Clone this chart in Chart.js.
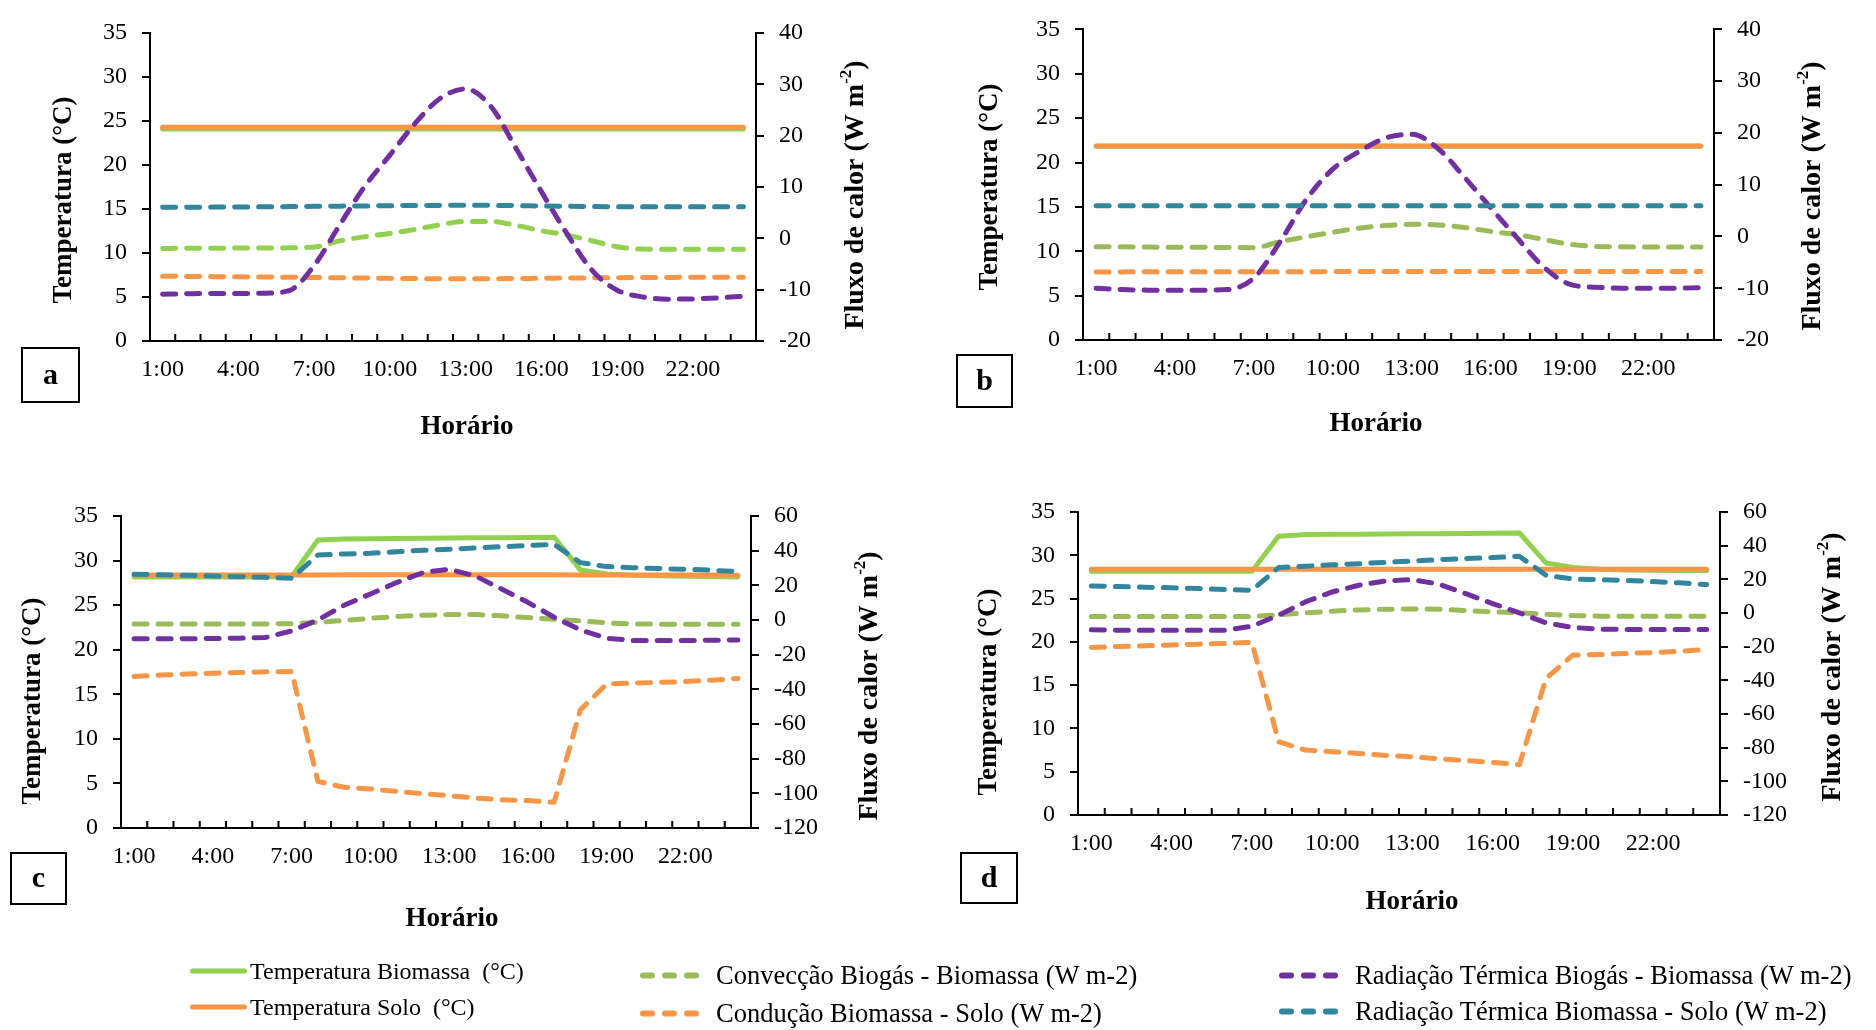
<!DOCTYPE html>
<html>
<head>
<meta charset="utf-8">
<title>Temperaturas e fluxos de calor</title>
<script src="https://cdn.jsdelivr.net/npm/chart.js@4.4.1/dist/chart.umd.min.js"></script>
<style>
  body { margin: 0; background: #fff; }
  #pagina { position: relative; width: 1876px; height: 1030px; overflow: hidden; background: #fff;
            font-family: 'Liberation Serif', 'Times New Roman', serif; color: #000; }
  #pagina canvas { position: absolute; left: 0; top: 0; pointer-events: none; }
  .leg { position: absolute; display: flex; align-items: center; white-space: pre; transform: translateY(-50%); }
  .amostra-linha { display: inline-block; height: 5px; border-radius: 3px; }
  .amostra-traco { display: inline-block; width: 15px; height: 6px; border-radius: 3px; margin-right: 7px; }
</style>
</head>
<body>
<div id="pagina">
  <canvas id="painelA" width="1876" height="1030"></canvas>
  <canvas id="painelB" width="1876" height="1030"></canvas>
  <canvas id="painelC" width="1876" height="1030"></canvas>
  <canvas id="painelD" width="1876" height="1030"></canvas>
</div>
<script>
// eixo x e ticks
const horas = ['1:00','2:00','3:00','4:00','5:00','6:00','7:00','8:00','9:00','10:00','11:00','12:00',
               '13:00','14:00','15:00','16:00','17:00','18:00','19:00','20:00','21:00','22:00','23:00','24:00'];
const rotulosX = ['1:00','4:00','7:00','10:00','13:00','16:00','19:00','22:00'];
const ticksTemperatura = [0, 5, 10, 15, 20, 25, 30, 35];
const ticksFluxoAB = [-20, -10, 0, 10, 20, 30, 40];
const ticksFluxoCD = [-120, -100, -80, -60, -40, -20, 0, 20, 40, 60];

const nomesSeries = ['Temperatura Biomassa  (°C)', 'Temperatura Solo  (°C)',
  'Convecção Biogás - Biomassa (W m-2)', 'Condução Biomassa - Solo (W m-2)',
  'Radiação Térmica Biogás - Biomassa (W m-2)', 'Radiação Térmica Biomassa - Solo (W m-2)'];
const coresSeries = ['#92d050', '#f79646', '#9bbb59', '#f79646', '#7030a0', '#31859c'];

// painel a
const tempBiomassaA = [24.1,24.1,24.1,24.1,24.1,24.1,24.1,24.1,24.1,24.1,24.1,24.1,24.1,24.1,24.1,24.1,24.1,24.1,24.1,24.1,24.1,24.1,24.1,24.1];
const tempSoloA = [24.3,24.3,24.3,24.3,24.3,24.3,24.3,24.3,24.3,24.3,24.3,24.3,24.3,24.3,24.3,24.3,24.3,24.3,24.3,24.3,24.3,24.3,24.3,24.3];
const conveccaoA = [-1.96,-1.95,-1.93,-1.9,-1.88,-1.85,-1.7,-0.5,0.31,0.96,1.74,2.65,3.3,3.3,2.52,1.48,0.64,-0.47,-1.64,-2.1,-2.15,-2.15,-2.15,-2.15];
const conducaoA = [-7.37,-7.42,-7.46,-7.5,-7.54,-7.58,-7.63,-7.68,-7.73,-7.8,-7.84,-7.87,-7.89,-7.86,-7.83,-7.78,-7.74,-7.7,-7.66,-7.63,-7.61,-7.6,-7.58,-7.56];
const radBiogasA = [-10.88,-10.8,-10.75,-10.75,-10.7,-10.2,-5.3,2.5,10.1,16.2,22.4,27.3,29.1,25.7,17.5,9.1,1.0,-6.2,-10.1,-11.4,-11.85,-11.8,-11.6,-11.3];
const radSoloA = [6.04,6.06,6.08,6.1,6.14,6.18,6.23,6.27,6.31,6.36,6.4,6.42,6.43,6.42,6.38,6.3,6.25,6.2,6.17,6.17,6.17,6.17,6.17,6.17];

// painel b
const tempBiomassaB = [21.82,21.82,21.82,21.82,21.82,21.82,21.82,21.82,21.82,21.82,21.82,21.82,21.82,21.82,21.82,21.82,21.82,21.82,21.82,21.82,21.82,21.82,21.82,21.82];
const tempSoloB = [21.86,21.86,21.86,21.86,21.86,21.86,21.86,21.86,21.86,21.86,21.86,21.86,21.86,21.86,21.86,21.86,21.86,21.86,21.86,21.86,21.86,21.86,21.86,21.86];
const conveccaoB = [-1.98,-2.0,-2.05,-2.08,-2.1,-2.13,-2.16,-1.0,-0.06,0.8,1.6,2.1,2.35,2.22,1.73,0.99,0.37,-0.56,-1.48,-1.91,-2.0,-2.04,-2.04,-2.04];
const conducaoB = [-6.85,-6.84,-6.83,-6.82,-6.82,-6.81,-6.8,-6.8,-6.8,-6.79,-6.79,-6.79,-6.79,-6.78,-6.78,-6.78,-6.77,-6.77,-6.76,-6.76,-6.76,-6.75,-6.75,-6.75];
const radBiogasB = [-10.0,-10.25,-10.37,-10.37,-10.37,-10.25,-8.0,-1.0,7.2,13.0,16.4,19.0,19.75,17.0,11.5,5.6,-0.2,-5.8,-9.2,-9.8,-10.0,-10.0,-10.0,-9.88];
const radSoloB = [5.93,5.93,5.93,5.93,5.93,5.93,5.93,5.93,5.93,5.93,5.93,5.93,5.93,5.93,5.93,5.93,5.93,5.93,5.93,5.93,5.93,5.93,5.93,5.93];

// painel c
const tempBiomassaC = [28.15,28.15,28.15,28.15,28.15,28.15,28.2,32.3,32.42,32.45,32.48,32.5,32.52,32.55,32.57,32.6,32.62,28.95,28.5,28.35,28.3,28.25,28.2,28.15];
const tempSoloC = [28.36,28.37,28.37,28.38,28.38,28.38,28.39,28.39,28.4,28.4,28.4,28.41,28.41,28.41,28.4,28.4,28.4,28.39,28.39,28.38,28.38,28.37,28.37,28.36];
const conveccaoC = [-2.24,-2.24,-2.24,-2.24,-2.24,-2.24,-2.2,-1.3,-0.3,1.0,2.0,2.76,3.14,3.14,2.4,1.4,0.45,-0.5,-1.66,-2.3,-2.4,-2.4,-2.4,-2.4];
const conducaoC = [-32.6,-31.8,-31.2,-30.7,-30.3,-29.9,-29.7,-93.1,-96.5,-97.5,-98.9,-100.2,-101.4,-102.7,-103.7,-104.2,-105.2,-51.8,-37.0,-36.4,-36.0,-35.5,-34.7,-33.7];
const radBiogasC = [-10.88,-10.88,-10.8,-10.7,-10.5,-10.1,-6.3,0.1,8.5,15.0,21.6,27.35,29.3,25.4,17.9,10.2,1.6,-5.7,-10.5,-11.85,-11.85,-11.85,-11.7,-11.5];
const radSoloC = [26.4,26.1,25.8,25.4,25.0,24.6,24.1,37.5,38.1,38.5,39.4,40.2,40.8,41.6,42.3,42.9,43.7,33.1,30.8,30.2,29.65,29.3,28.7,27.9];

// painel d
const tempBiomassaD = [28.15,28.15,28.15,28.15,28.15,28.15,28.15,32.19,32.4,32.42,32.44,32.46,32.48,32.5,32.52,32.55,32.58,29.1,28.58,28.4,28.3,28.27,28.25,28.25];
const tempSoloD = [28.38,28.38,28.38,28.38,28.38,28.38,28.38,28.38,28.38,28.38,28.38,28.38,28.38,28.38,28.38,28.38,28.38,28.38,28.38,28.38,28.38,28.38,28.38,28.38];
const conveccaoD = [-2.1,-2.1,-2.1,-2.1,-2.1,-2.1,-2.1,-1.1,0.07,1.06,1.85,2.25,2.45,2.25,1.46,0.67,0.07,-0.72,-1.5,-1.9,-1.9,-1.9,-1.9,-1.9];
const conducaoD = [-20.5,-19.9,-19.5,-19.0,-18.5,-18.1,-17.5,-76.5,-81.4,-82.4,-83.4,-84.6,-85.4,-86.6,-87.7,-88.7,-90.1,-38.9,-25.0,-24.65,-24.06,-23.5,-22.7,-21.7];
const radBiogasD = [-10.0,-10.2,-10.2,-10.2,-10.2,-10.2,-7.84,-1.3,6.6,12.5,16.5,19.06,19.85,17.1,11.5,5.6,0.07,-5.86,-8.6,-9.6,-9.8,-9.8,-9.8,-9.8];
const radSoloD = [16.1,15.7,15.3,15.0,14.5,13.9,13.5,27.0,27.8,28.6,29.3,30.1,30.9,31.7,32.3,32.9,33.7,22.4,20.2,19.85,19.3,18.66,17.9,16.9];

// layout de cada painel (px da pagina)
const paineis = [
  { canvas: 'painelA', letra: 'a', suave: true, corConveccao: '#92d050', ticksFluxo: ticksFluxoAB,
    dados: [tempBiomassaA, tempSoloA, conveccaoA, conducaoA, radBiogasA, radSoloA],
    area: { left: 150, right: 756, top: 33, bottom: 341 },
    caixa: [22, 348, 57, 54], tituloX: [467, 427], tituloY: [64, 200], tituloY1: [856, 195] },
  { canvas: 'painelB', letra: 'b', suave: true, ticksFluxo: ticksFluxoAB,
    dados: [tempBiomassaB, tempSoloB, conveccaoB, conducaoB, radBiogasB, radSoloB],
    area: { left: 1083, right: 1714, top: 16, bottom: 340 },
    caixa: [957, 355, 55, 52], tituloX: [1376, 424], tituloY: [990, 187], tituloY1: [1813, 196] },
  { canvas: 'painelC', letra: 'c', suave: false, ticksFluxo: ticksFluxoCD,
    dados: [tempBiomassaC, tempSoloC, conveccaoC, conducaoC, radBiogasC, radSoloC],
    area: { left: 121, right: 751, top: 516, bottom: 828 },
    caixa: [11, 853, 55, 51], tituloX: [452, 919], tituloY: [33, 701], tituloY1: [870, 686] },
  { canvas: 'painelD', letra: 'd', suave: false, ticksFluxo: ticksFluxoCD,
    dados: [tempBiomassaD, tempSoloD, conveccaoD, conducaoD, radBiogasD, radSoloD],
    area: { left: 1078, right: 1720, top: 512, bottom: 815 },
    caixa: [961, 853, 56, 50], tituloX: [1412, 902], tituloY: [989, 692], tituloY1: [1833, 667] }
];

const FONTE = "'Liberation Serif', 'Times New Roman', serif";
const LARG_Y = 120, LARG_Y1 = 100, ALT_X = 60;

// ticks internos do eixo x, titulos e caixa da letra
const decoracao = {
  id: 'decoracao',
  afterDraw(chart, args, o) {
    const ctx = chart.ctx;
    const xs = chart.scales.x;
    ctx.save();
    ctx.strokeStyle = '#000';
    ctx.lineWidth = 2;
    const n = chart.data.labels.length;
    const passo = (xs.right - xs.left) / n;
    for (let i = 1; i < n; i++) {
      const px = xs.left + i * passo;
      ctx.beginPath();
      ctx.moveTo(px, xs.top);
      ctx.lineTo(px, xs.top - 7);
      ctx.stroke();
    }

    ctx.fillStyle = '#000';
    ctx.textAlign = 'center';
    ctx.textBaseline = 'middle';
    ctx.font = 'bold 27px ' + FONTE;
    ctx.fillText('Horário', o.tituloX[0], o.tituloX[1]);

    ctx.save();
    ctx.translate(o.tituloY[0], o.tituloY[1]);
    ctx.rotate(-Math.PI / 2);
    ctx.fillText('Temperatura (°C)', 0, 0);
    ctx.restore();

    // titulo da direita com expoente
    ctx.save();
    ctx.translate(o.tituloY1[0], o.tituloY1[1]);
    ctx.rotate(-Math.PI / 2);
    ctx.textAlign = 'left';
    const p1 = 'Fluxo de calor (W m', p2 = '-2', p3 = ')';
    ctx.font = 'bold 28px ' + FONTE;
    const w1 = ctx.measureText(p1).width, w3 = ctx.measureText(p3).width;
    ctx.font = 'bold 17px ' + FONTE;
    const w2 = ctx.measureText(p2).width;
    let x0 = -(w1 + w2 + w3) / 2;
    ctx.font = 'bold 28px ' + FONTE;
    ctx.fillText(p1, x0, 0);
    ctx.font = 'bold 17px ' + FONTE;
    ctx.fillText(p2, x0 + w1, -9);
    ctx.font = 'bold 28px ' + FONTE;
    ctx.fillText(p3, x0 + w1 + w2, 0);
    ctx.restore();

    const [bx, by, bw, bh] = o.caixa;
    ctx.lineWidth = 2;
    ctx.strokeRect(bx, by, bw, bh);
    ctx.font = 'bold 30px ' + FONTE;
    ctx.fillText(o.letra, bx + bw / 2, by + bh / 2 + 1);
    ctx.restore();
  }
};

function montarDatasets(p) {
  return p.dados.map((valores, i) => ({
    label: nomesSeries[i],
    data: valores,
    order: 5 - i,
    yAxisID: i < 2 ? 'y' : 'y1',
    borderColor: (i === 2 && p.corConveccao) ? p.corConveccao : coresSeries[i],
    backgroundColor: coresSeries[i],
    borderWidth: 5,
    borderDash: i < 2 ? [] : [13, 11],
    borderCapStyle: 'round',
    borderJoinStyle: 'round',
    pointRadius: 0,
    fill: false,
    tension: p.suave ? 0.4 : 0,
    cubicInterpolationMode: p.suave ? 'monotone' : 'default'
  }));
}

function eixoY(ticks, posicao, largura) {
  return {
    type: 'linear',
    position: posicao,
    min: ticks[0],
    max: ticks[ticks.length - 1],
    afterFit: s => { s.width = largura; },
    afterBuildTicks: s => { s.ticks = ticks.map(v => ({ value: v })); },
    grid: { display: true, drawOnChartArea: false, drawTicks: true, tickLength: 8, color: '#000', lineWidth: 2 },
    border: { display: true, color: '#000', width: 2 },
    ticks: { color: '#000', padding: 15, font: { family: FONTE, size: 24 } }
  };
}

paineis.forEach(p => {
  new Chart(document.getElementById(p.canvas), {
    type: 'line',
    data: { labels: horas, datasets: montarDatasets(p) },
    plugins: [decoracao],
    options: {
      responsive: false,
      animation: false,
      events: [],
      layout: {
        padding: {
          left: p.area.left - LARG_Y,
          right: 1876 - p.area.right - LARG_Y1,
          top: p.area.top,
          bottom: 1030 - p.area.bottom - ALT_X
        }
      },
      plugins: {
        legend: { display: false },
        tooltip: { enabled: false },
        decoracao: p
      },
      scales: {
        x: {
          type: 'category',
          offset: true,
          afterFit: s => { s.height = ALT_X; },
          grid: { display: false, drawTicks: false },
          border: { display: true, color: '#000', width: 2 },
          ticks: {
            autoSkip: false, maxRotation: 0, color: '#000', padding: 14,
            font: { family: FONTE, size: 24 },
            callback: function (v, i) {
              const r = horas[i];
              return rotulosX.includes(r) ? r : '';
            }
          }
        },
        y: eixoY(ticksTemperatura, 'left', LARG_Y),
        y1: eixoY(p.ticksFluxo, 'right', LARG_Y1)
      }
    }
  });
});

// legenda em html
const legendaPos = [
  { x: 190, y: 971, fonte: 24, gap: 3 },
  { x: 190, y: 1007, fonte: 24, gap: 3 },
  { x: 640, y: 975, fonte: 26.5, gap: 17 },
  { x: 640, y: 1013, fonte: 26.5, gap: 17 },
  { x: 1279, y: 975, fonte: 26.5, gap: 17 },
  { x: 1279, y: 1011, fonte: 26.5, gap: 17 }
];
const pagina = document.getElementById('pagina');
nomesSeries.forEach((nome, i) => {
  const pos = legendaPos[i];
  const item = document.createElement('div');
  item.className = 'leg';
  item.style.left = pos.x + 'px';
  item.style.top = pos.y + 'px';
  item.style.fontSize = pos.fonte + 'px';
  const amostra = document.createElement('span');
  amostra.style.display = 'inline-flex';
  amostra.style.marginRight = pos.gap + 'px';
  if (i < 2) {
    const l = document.createElement('span');
    l.className = 'amostra-linha';
    l.style.width = '57px';
    l.style.background = coresSeries[i];
    amostra.appendChild(l);
  } else {
    for (let k = 0; k < 3; k++) {
      const t = document.createElement('span');
      t.className = 'amostra-traco';
      t.style.background = coresSeries[i];
      if (k === 2) t.style.marginRight = '0';
      amostra.appendChild(t);
    }
  }
  const txt = document.createElement('span');
  txt.textContent = nome;
  item.appendChild(amostra);
  item.appendChild(txt);
  pagina.appendChild(item);
});
</script>
</body>
</html>
